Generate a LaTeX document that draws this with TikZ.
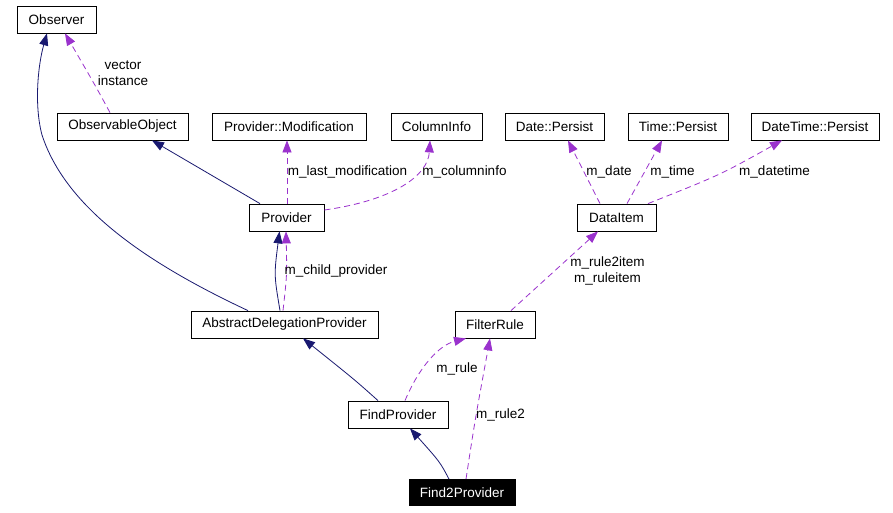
\documentclass[tikz,border=0pt]{standalone}
\usepackage{fontspec}
\setmainfont{Liberation Sans}
\usetikzlibrary{arrows.meta,calc}
\definecolor{navyc}{HTML}{191970}
\definecolor{purp}{HTML}{9A32CD}
\begin{document}
\begin{tikzpicture}[x=1pt,y=-1pt,
  font=\fontsize{13.5}{16}\selectfont,
  box/.style={draw=black, line width=0.8pt, inner sep=0pt, minimum height=27pt, anchor=center},
  inh/.style={draw=navyc, line width=0.8pt, -{Triangle[length=12pt,width=9pt,fill=navyc]}},
  use/.style={draw=purp, line width=0.8pt, dash pattern=on 6pt off 4pt, -{Triangle[length=12pt,width=9pt,fill=purp]}},
  lbl/.style={inner sep=0pt, align=center}]
\useasboundingbox (0,0) rectangle (893,512);
\fill[white] (0,0) rectangle (893,512);
% nodes
\node[box,minimum width=79pt] (obs) at (56.5,19.5) {Observer};
\node[box,minimum width=131pt] (oo) at (122.5,126.5) {ObservableObject};
\node[box,minimum width=154pt] (pm) at (289,126.5) {Provider::Modification};
\node[box,minimum width=91pt] (ci) at (436.5,126.5) {ColumnInfo};
\node[box,minimum width=99pt] (dp) at (554.5,126.5) {Date::Persist};
\node[box,minimum width=100pt] (tp) at (678,126.5) {Time::Persist};
\node[box,minimum width=128pt] (dtp) at (815,126.5) {DateTime::Persist};
\node[box,minimum width=75pt] (prov) at (286.5,217.5) {Provider};
\node[box,minimum width=79pt] (di) at (616.5,217.5) {DataItem};
\node[box,minimum width=187pt] (adp) at (284.5,324.5) {AbstractDelegationProvider};
\node[box,minimum width=80pt] (fr) at (495,324.5) {FilterRule};
\node[box,minimum width=100pt] (fp) at (398,414.5) {FindProvider};
\node[box,minimum width=106pt,fill=black,text=white,minimum height=26pt] (f2p) at (462,492.5) {Find2Provider};
% inheritance edges
\draw[inh] ([xshift=-36.5pt]adp.north) .. controls (140,260) and (65,205) .. (42,135) .. controls (34,105) and (38,65) .. ([xshift=-9.5pt]obs.south);
\draw[inh] ([xshift=-26.5pt]prov.north) -- ([xshift=29.5pt]oo.south);
\draw[inh] ([xshift=-4.5pt]adp.north) .. controls (274,275) .. ([xshift=-7pt]prov.south);
\draw[inh] ([xshift=-20pt]fp.north) .. controls (355,380) .. ([xshift=18.5pt]adp.south);
\draw[inh] ([xshift=-13pt]f2p.north) .. controls (440,462) .. ([xshift=12pt]fp.south);
% usage edges
\draw[use] ([xshift=-12.5pt]oo.north) .. controls (95,85) .. ([xshift=8.5pt]obs.south);
\draw[use] ([xshift=0.5pt]prov.north) -- ([xshift=-2pt]pm.south);
\draw[use] ([yshift=7.5pt]prov.east) .. controls (395,200) and (428,175) .. ([xshift=-6.5pt]ci.south);
\draw[use] ([xshift=-1.5pt]adp.north) .. controls (287,275) .. ([xshift=-0.5pt]prov.south);
\draw[use] ([xshift=-16.5pt]di.north) -- ([xshift=13.5pt]dp.south);
\draw[use] ([xshift=10.5pt]di.north) -- ([xshift=-16pt]tp.south);
\draw[use] ([xshift=31.5pt]di.north) .. controls (720,175) .. ([xshift=-33pt]dtp.south);
\draw[use] ([xshift=16pt]fr.north) -- ([xshift=-18.5pt]di.south);
\draw[use] ([xshift=7pt]fp.north) .. controls (420,365) and (440,345) .. ([xshift=-29pt]fr.south);
\draw[use] ([xshift=4pt]f2p.north) .. controls (475,420) .. ([xshift=-5pt]fr.south);
% labels
\node[lbl] (l1) at (123,73) {vector\\instance};
\node[lbl] (l2) at (347.5,172) {m\_last\_modification};
\node[lbl] (l3) at (464.5,172) {m\_columninfo};
\node[lbl] (l4) at (609,172) {m\_date};
\node[lbl] (l5) at (672.5,172) {m\_time};
\node[lbl] (l6) at (774.5,172) {m\_datetime};
\node[lbl] (l7) at (336,271) {m\_child\_provider};
\node[lbl] (l8) at (607.5,270.5) {m\_rule2item\\m\_ruleitem};
\node[lbl] (l9) at (457,369) {m\_rule};
\node[lbl] (l10) at (500.5,415) {m\_rule2};
\end{tikzpicture}
\end{document}
